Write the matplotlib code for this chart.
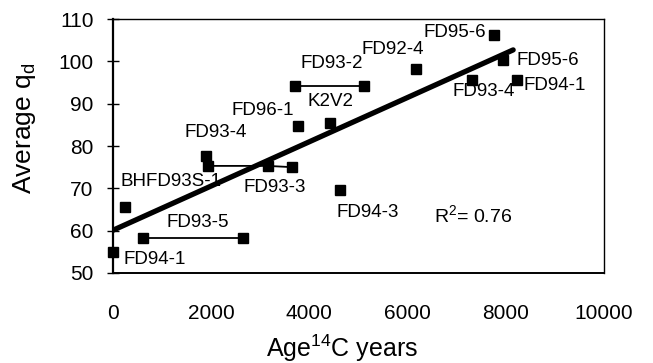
import matplotlib
matplotlib.use("Agg")
import matplotlib.pyplot as plt

plt.rcParams['font.family'] = ['Liberation Sans', 'DejaVu Sans']
plt.rcParams['mathtext.fontset'] = 'custom'
plt.rcParams['mathtext.rm'] = 'Liberation Sans'
plt.rcParams['mathtext.it'] = 'Liberation Sans'

# single points
pt_x = [0, 240, 1900, 3760, 4420, 4620, 6180, 7760, 7940, 7310, 8230]
pt_y = [55.0, 65.7, 77.6, 84.8, 85.5, 69.7, 98.2, 106.3, 100.3, 95.7, 95.6]

# age ranges (horizontal segments)
range_x = [[620, 2650], [1930, 3150, 3650], [3700, 5120]]
range_y = [[58.3, 58.3], [75.3, 75.3, 75.0], [94.2, 94.2]]

# trend line
trend_x = [0, 8150]
trend_y = [60.1, 102.7]

labels = ["FD95-6", "FD92-4", "FD93-2", "FD96-1", "K2V2", "FD93-4", "BHFD93S-1",
          "FD93-3", "FD93-5", "FD94-1", "FD94-3", "FD95-6", "FD93-4", "FD94-1"]
label_x = [6965, 5703, 4460, 3055, 4420, 2098, 1181, 3300, 1731, 855, 5193, 8859, 7556, 9002]
label_y = [106.9, 102.7, 99.4, 88.5, 90.4, 83.3, 71.5, 70.3, 62.0, 53.1, 64.2, 100.3, 92.8, 94.4]

x_ticks = [0, 2000, 4000, 6000, 8000, 10000]
y_ticks = [50, 60, 70, 80, 90, 100, 110]

fig = plt.figure(figsize=(6.53, 3.63), dpi=100)
ax = fig.add_axes([113/653, 1-273/363, (604-113)/653, (273-19)/363])

for xs, ys in zip(range_x, range_y):
    ax.plot(xs, ys, color='black', lw=1.3, marker='s', ms=6.5, zorder=3)
ax.plot(pt_x, pt_y, ls='none', marker='s', ms=6.5, color='black', zorder=3, clip_on=False)
ax.plot(trend_x, trend_y, color='black', lw=3.8, solid_capstyle='round', zorder=4)

for t, x, y in zip(labels, label_x, label_y):
    ax.text(x, y, t, ha='center', va='center', fontsize=13.5, color='black')
ax.text(7332, 63.7, r'R$^2$= 0.76', ha='center', va='center', fontsize=14, color='black')

ax.set_xlim(0, 10000)
ax.set_ylim(50, 110)
ax.set_xticks(x_ticks)
ax.set_yticks(y_ticks)
ax.tick_params(axis='x', length=0, labelsize=15, pad=22)
ax.tick_params(axis='y', direction='inout', length=8, width=1, labelsize=15, pad=10)
for s in ['top', 'right']:
    ax.spines[s].set_linewidth(1.0)
ax.spines['left'].set_linewidth(1.6)
ax.spines['bottom'].set_linewidth(1.4)

fig.text(342/653, 1-348/363, r'Age$^{14}$C years', ha='center', va='center', fontsize=18)
fig.text(24/653, 1-128/363, r'Average q$_{\mathrm{d}}$', ha='center', va='center', fontsize=19, rotation=90)

fig.savefig('out.png', dpi=100)
